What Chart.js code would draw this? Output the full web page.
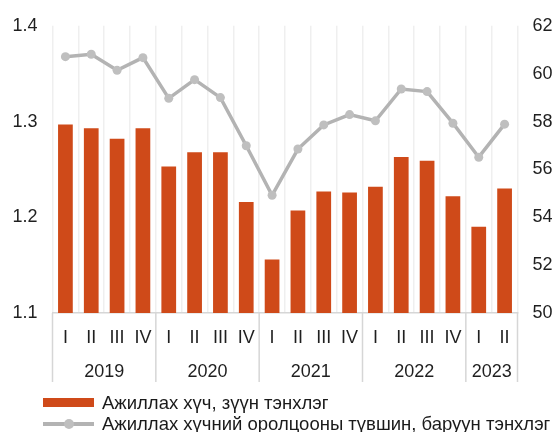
<!DOCTYPE html>
<html lang="mn">
<head>
  <meta charset="UTF-8" />
  <title>Ажиллах хүч</title>
  <script src="https://cdn.jsdelivr.net/npm/chart.js"></script>
  <style>
    body {
      margin: 0;
      background: #fff;
      font-family: 'Liberation Sans', Arial, sans-serif;
    }
    .wrap {
      position: relative;
      width: 557px;
      height: 432px;
    }
    .legend {
      position: absolute;
      left: 43px;
      top: 392px;
      font-size: 18.5px;
      color: #1a1a1a;
    }
    .legend-row {
      display: flex;
      align-items: center;
      height: 21px;
      white-space: nowrap;
    }
    .swatch {
      position: relative;
      width: 51px;
      margin-right: 8px;
    }
    .swatch.bar { height: 9px; }
    .swatch.line { height: 4px; }
    .swatch.line::after {
      content: '';
      position: absolute;
      left: 21px;
      top: -3px;
      width: 10px;
      height: 10px;
      border-radius: 50%;
      background: #bfbfbf;
    }
  </style>
</head>
<body>
  <div class="wrap">
    <canvas id="chart" width="557" height="432"></canvas>
    <div class="legend" id="legend"></div>
  </div>

  <script>
    // quarters on the x axis, grouped by year
    const quarters = ['I', 'II', 'III', 'IV', 'I', 'II', 'III', 'IV', 'I', 'II', 'III', 'IV', 'I', 'II', 'III', 'IV', 'I', 'II'];
    const years = ['2019', '2020', '2021', '2022', '2023'];
    const quartersPerYear = [4, 4, 4, 4, 2];

    // labour force (left axis) and participation rate (right axis)
    const labourForce = [1.297, 1.293, 1.282, 1.293, 1.253, 1.268, 1.268, 1.216, 1.156, 1.207, 1.227, 1.226, 1.232, 1.263, 1.259, 1.222, 1.190, 1.230];
    const participationRate = [60.71, 60.81, 60.14, 60.67, 58.97, 59.75, 59.0, 56.99, 54.92, 56.85, 57.86, 58.29, 58.03, 59.36, 59.25, 57.93, 56.51, 57.89];

    const barLabel = 'Ажиллах хүч, зүүн тэнхлэг';
    const lineLabel = 'Ажиллах хүчний оролцооны түвшин, баруун тэнхлэг';

    const barColor = '#cf4a19';
    const lineColor = '#b3b3b3';
    const fontFamily = "'Liberation Sans', Arial, sans-serif";
    const textColor = '#1f1f1f';

    // year row under the quarter labels + group separators
    const yearAxisPlugin = {
      id: 'yearAxis',
      afterDraw(chart) {
        const ctx = chart.ctx;
        const x = chart.scales.x;
        const area = chart.chartArea;
        const half = (x.getPixelForValue(1) - x.getPixelForValue(0)) / 2;
        ctx.save();
        ctx.strokeStyle = '#d6d6d6';
        ctx.lineWidth = 1.5;
        ctx.fillStyle = textColor;
        ctx.font = '18px ' + fontFamily;
        ctx.textAlign = 'center';
        ctx.textBaseline = 'middle';
        let idx = 0;
        years.forEach((yr, g) => {
          const left = x.getPixelForValue(idx) - half;
          const right = x.getPixelForValue(idx + quartersPerYear[g] - 1) + half;
          ctx.beginPath();
          ctx.moveTo(left, area.bottom);
          ctx.lineTo(left, area.bottom + 69);
          ctx.stroke();
          if (g === years.length - 1) {
            ctx.beginPath();
            ctx.moveTo(right, area.bottom);
            ctx.lineTo(right, area.bottom + 69);
            ctx.stroke();
          }
          ctx.fillText(yr, (left + right) / 2, area.bottom + 59);
          idx += quartersPerYear[g];
        });
        ctx.restore();
      }
    };

    const chart = new Chart(document.getElementById('chart'), {
      type: 'bar',
      data: {
        labels: quarters,
        datasets: [
          {
            type: 'line',
            label: lineLabel,
            data: participationRate,
            yAxisID: 'y1',
            borderColor: lineColor,
            borderWidth: 3.5,
            pointRadius: 4.5,
            pointBackgroundColor: '#bfbfbf',
            pointBorderWidth: 0,
            tension: 0,
            order: 0
          },
          {
            type: 'bar',
            label: barLabel,
            data: labourForce,
            yAxisID: 'y',
            backgroundColor: barColor,
            categoryPercentage: 1,
            barPercentage: 0.57,
            order: 1
          }
        ]
      },
      options: {
        responsive: false,
        animation: false,
        layout: { padding: { left: 12, right: 0, top: 10, bottom: 79 } },
        plugins: {
          legend: { display: false },
          tooltip: { enabled: false }
        },
        scales: {
          x: {
            offset: true,
            grid: { offset: true, color: '#efefef', lineWidth: 1.5, drawTicks: false },
            border: { display: true, color: '#d6d6d6', width: 1.5 },
            ticks: { color: textColor, font: { family: fontFamily, size: 18 }, padding: 14, maxRotation: 0, autoSkip: false },
            afterFit: s => { s.height = 40; }
          },
          y: {
            position: 'left',
            min: 1.1,
            max: 1.4,
            grid: { display: false, drawTicks: false },
            border: { display: false },
            ticks: {
              stepSize: 0.1,
              padding: 15,
              color: textColor,
              font: { family: fontFamily, size: 18 },
              callback: v => v.toFixed(1)
            },
            afterFit: s => { s.width = 40.5; }
          },
          y1: {
            position: 'right',
            min: 50,
            max: 62,
            grid: { display: false, drawTicks: false },
            border: { display: false },
            ticks: {
              stepSize: 2,
              padding: 15,
              color: textColor,
              font: { family: fontFamily, size: 18 }
            },
            afterFit: s => { s.width = 39.5; }
          }
        }
      },
      plugins: [yearAxisPlugin]
    });

    // legend built from the datasets, bar first
    const legendEl = document.getElementById('legend');
    [chart.data.datasets[1], chart.data.datasets[0]].forEach(ds => {
      const row = document.createElement('div');
      row.className = 'legend-row';
      const sw = document.createElement('span');
      sw.className = 'swatch ' + ds.type;
      sw.style.background = ds.type === 'bar' ? ds.backgroundColor : ds.borderColor;
      const txt = document.createElement('span');
      txt.textContent = ds.label;
      row.appendChild(sw);
      row.appendChild(txt);
      legendEl.appendChild(row);
    });
  </script>
</body>
</html>
